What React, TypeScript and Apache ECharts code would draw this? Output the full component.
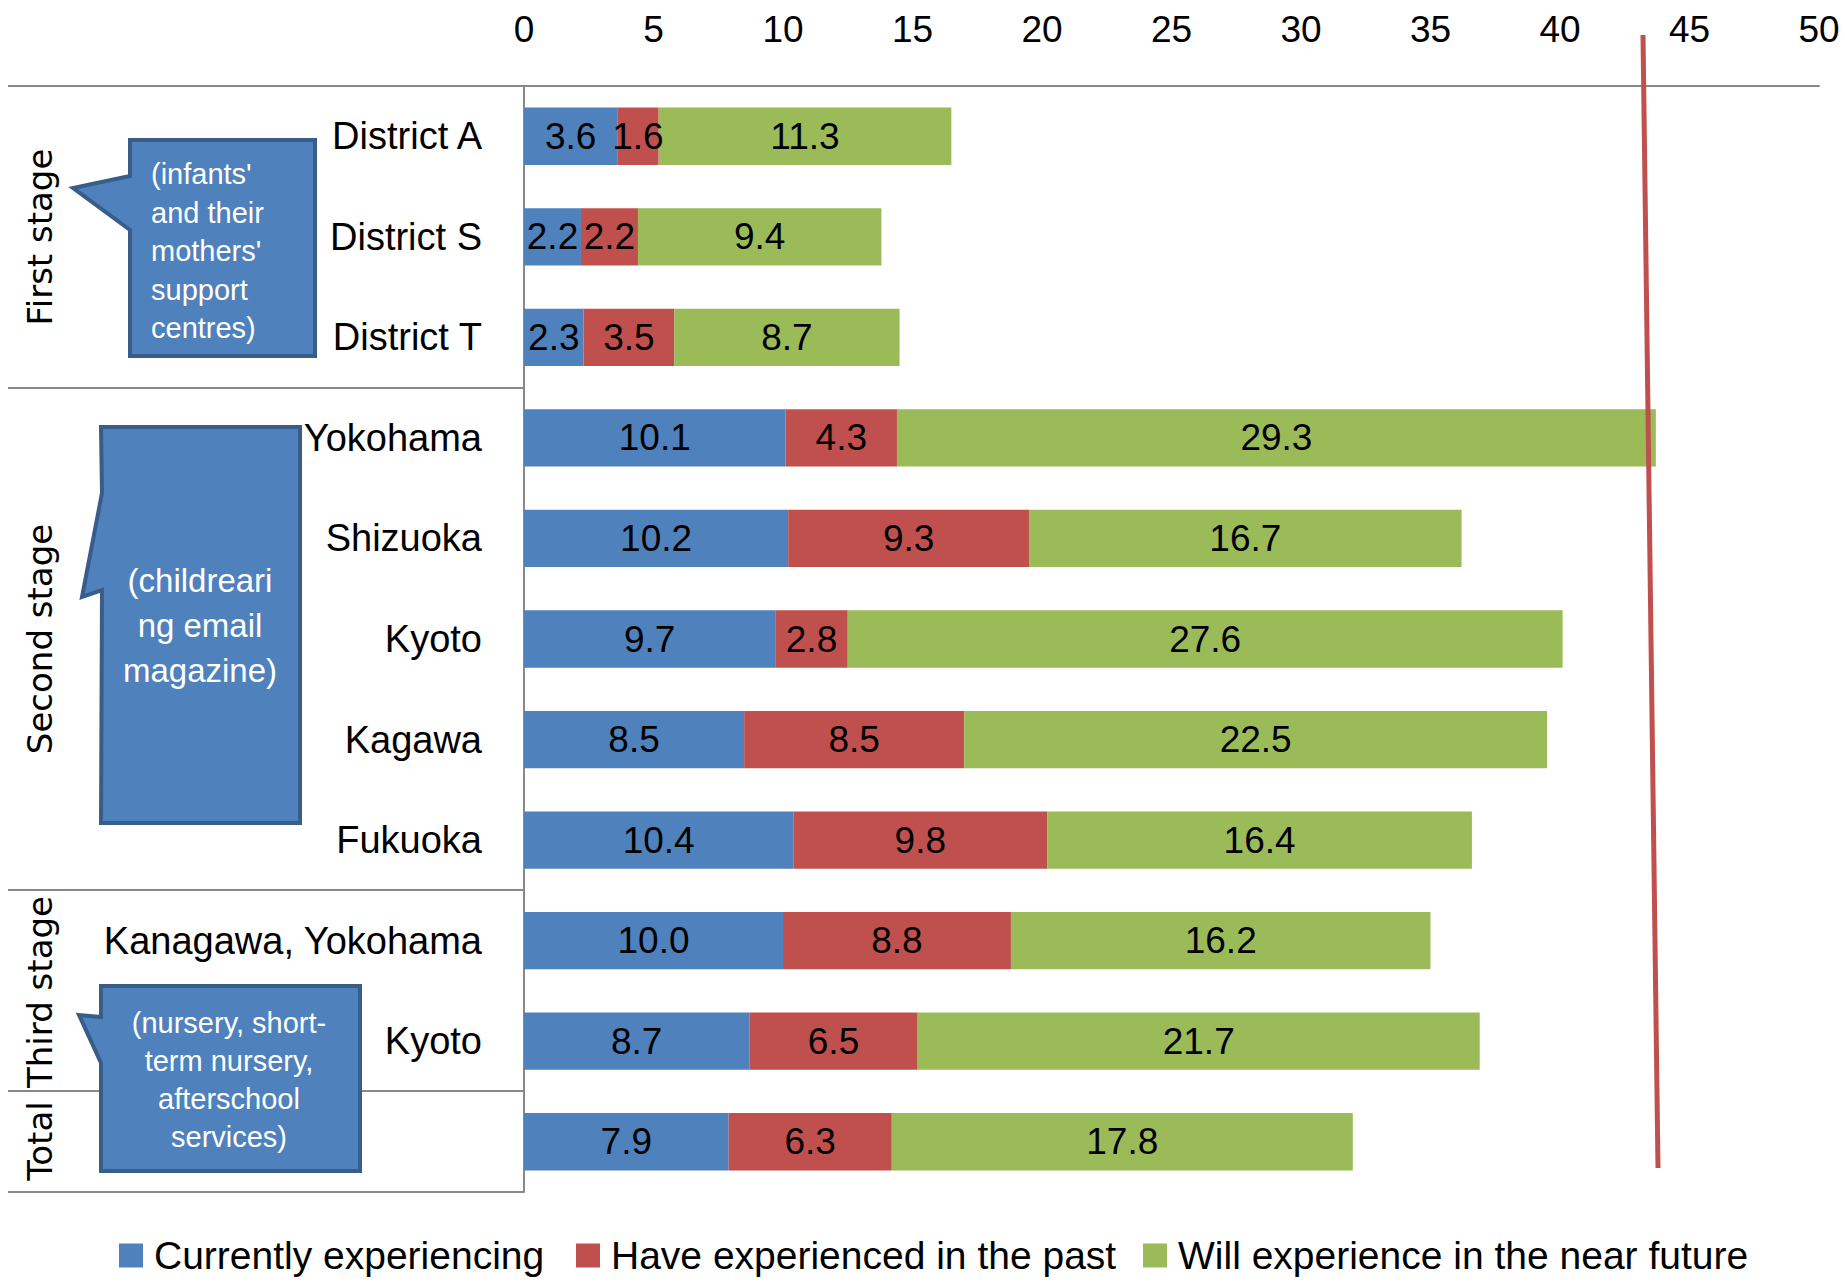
import React, { useEffect, useRef } from "react";
import * as echarts from "echarts";

const categories = [
  "District A", "District S", "District T",
  "Yokohama", "Shizuoka", "Kyoto", "Kagawa", "Fukuoka",
  "Kanagawa, Yokohama", "Kyoto", "",
];
const seriesNames = [
  "Currently experiencing",
  "Have experienced in the past",
  "Will experience in the near future",
];
const current = [3.6, 2.2, 2.3, 10.1, 10.2, 9.7, 8.5, 10.4, 10.0, 8.7, 7.9];
const past = [1.6, 2.2, 3.5, 4.3, 9.3, 2.8, 8.5, 9.8, 8.8, 6.5, 6.3];
const future = [11.3, 9.4, 8.7, 29.3, 16.7, 27.6, 22.5, 16.4, 16.2, 21.7, 17.8];
const colors = ["#4F81BD", "#C0504D", "#9BBB59"];

const groupLabels = ["First stage", "Second stage", "Third stage", "Total"];
const callout1 = "(infants'\nand their\nmothers'\nsupport\ncentres)";
const callout2 = "(childreari\nng email\nmagazine)";
const callout3 = "(nursery, short-\nterm nursery,\nafterschool\nservices)";

const FONT = "'Liberation Sans', Arial, sans-serif";
const GRAY = "#898989";

export default function App() {
  const ref = useRef<HTMLDivElement>(null);
  useEffect(() => {
    const chart = echarts.init(ref.current!, null, { renderer: "svg" });
    const allData = [current, past, future];
    const series = allData.map((d, i) => ({
      name: seriesNames[i],
      type: "bar",
      stack: "total",
      barWidth: "57%",
      data: d,
      itemStyle: { color: colors[i] },
      label: {
        show: true,
        position: "inside",
        color: "#000",
        fontSize: 37,
        fontFamily: FONT,
        formatter: (p: any) => Number(p.value).toFixed(1),
      },
    }));
    const lineStyle = { stroke: GRAY, lineWidth: 2 };
    const hline = (y: number) => ({
      type: "line",
      shape: { x1: 8, y1: y, x2: 524, y2: y },
      style: lineStyle,
      z: 5,
    });
    const calloutStyle = { fill: "#4F81BD", stroke: "#385D8A", lineWidth: 4 };
    const groupText = (t: string, y: number) => ({
      type: "text",
      x: 40,
      y,
      rotation: Math.PI / 2,
      z: 10,
      style: {
        text: t,
        align: "center",
        verticalAlign: "middle",
        font: "34px 'DejaVu Sans', sans-serif",
        fill: "#000",
      },
    });
    chart.setOption({
      animation: false,
      color: colors,
      textStyle: { fontFamily: FONT },
      grid: { left: 524, right: 26, top: 86, bottom: 90, containLabel: false },
      xAxis: {
        type: "value",
        position: "top",
        min: 0,
        max: 50,
        interval: 5,
        axisLine: { show: true, lineStyle: { color: GRAY, width: 2 } },
        axisTick: { show: false },
        splitLine: { show: false },
        axisLabel: { color: "#000", fontSize: 37, fontFamily: FONT, margin: 38 },
      },
      yAxis: {
        type: "category",
        inverse: true,
        data: categories,
        axisLine: { show: true, lineStyle: { color: GRAY, width: 2 } },
        axisTick: { show: false },
        axisLabel: { color: "#000", fontSize: 38, fontFamily: FONT, margin: 42 },
      },
      legend: seriesNames.map((n, i) => ({
        data: [n],
        left: [119, 576, 1143][i],
        top: 1236,
        padding: 0,
        icon: "rect",
        itemWidth: 24,
        itemHeight: 24,
        textStyle: { fontSize: 39, fontFamily: FONT, color: "#000", padding: [0, 0, 0, 6] },
      })),
      series,
      graphic: [
        hline(86),
        hline(388),
        hline(890),
        hline(1091),
        hline(1192),
        groupText(groupLabels[0], 237),
        groupText(groupLabels[1], 639),
        groupText(groupLabels[2], 992),
        groupText(groupLabels[3], 1141),
        {
          type: "polygon",
          z: 20,
          shape: { points: [[130, 140], [315, 140], [315, 356], [130, 356], [130, 230], [73, 188], [130, 176]] },
          style: calloutStyle,
        },
        {
          type: "text",
          z: 21,
          x: 151,
          y: 251,
          style: { text: callout1, align: "left", verticalAlign: "middle", fill: "#fff", font: `29px ${FONT}`, lineHeight: 38.5 },
        },
        {
          type: "polygon",
          z: 20,
          shape: { points: [[101, 427], [300, 427], [300, 823], [101, 823], [102, 590], [82, 597], [102, 493]] },
          style: calloutStyle,
        },
        {
          type: "text",
          z: 21,
          x: 200,
          y: 625,
          style: { text: callout2, align: "center", verticalAlign: "middle", fill: "#fff", font: `33px ${FONT}`, lineHeight: 45 },
        },
        {
          type: "polygon",
          z: 20,
          shape: { points: [[101, 986], [360, 986], [360, 1171], [101, 1171], [101, 1063], [79, 1015], [101, 1017]] },
          style: calloutStyle,
        },
        {
          type: "text",
          z: 21,
          x: 229,
          y: 1080,
          style: { text: callout3, align: "center", verticalAlign: "middle", fill: "#fff", font: `29px ${FONT}`, lineHeight: 38 },
        },
        {
          type: "line",
          z: 30,
          shape: { x1: 1643, y1: 35, x2: 1658, y2: 1168 },
          style: { stroke: "#C0504D", lineWidth: 5 },
        },
      ],
    });
    return () => chart.dispose();
  }, []);
  return (
    <div
      ref={ref}
      style={{ position: "fixed", left: 0, top: 0, width: 1845, height: 1282, background: "#fff" }}
    />
  );
}
